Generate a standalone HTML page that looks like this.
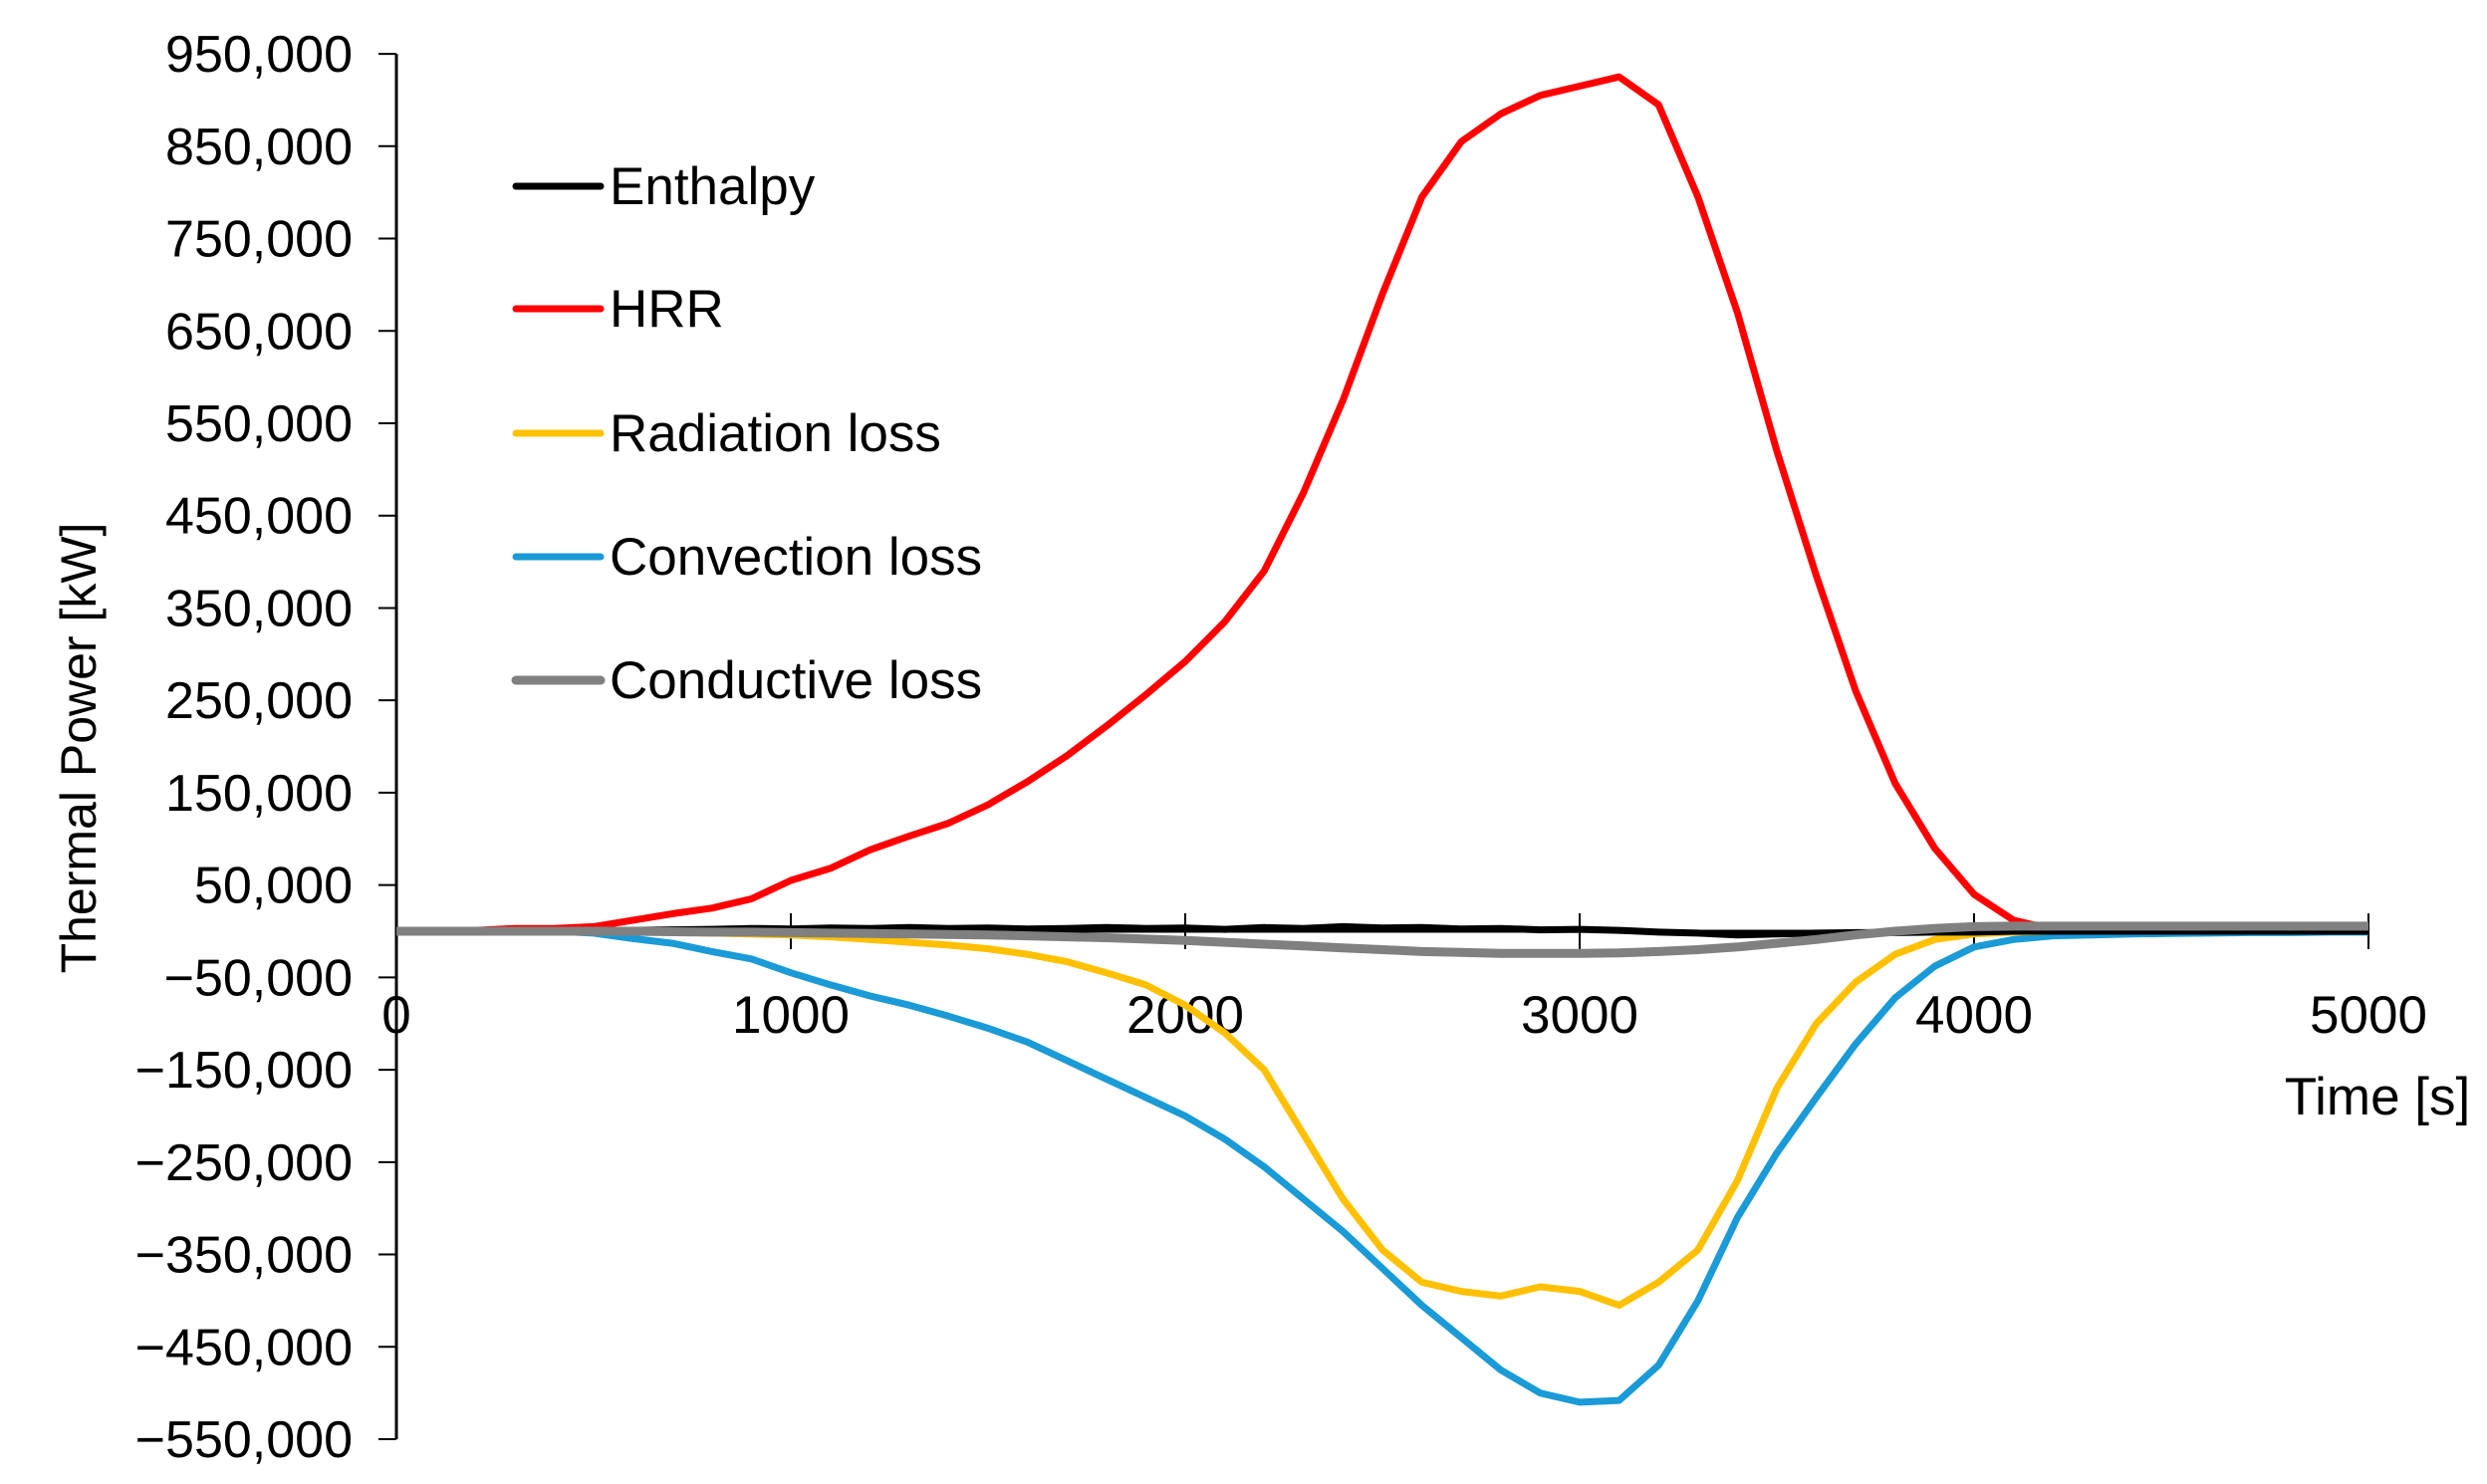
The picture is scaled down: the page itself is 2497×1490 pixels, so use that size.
<!DOCTYPE html>
<html><head><meta charset="utf-8"><style>
html,body{margin:0;padding:0;background:#fff;}
svg{display:block;font-family:"Liberation Sans",sans-serif;}
</style></head><body>
<svg id="chart" width="2497" height="1490" viewBox="0 0 2497 1490" xmlns="http://www.w3.org/2000/svg">
<g id="axes"></g>
<g id="series"></g>
<text transform="translate(96,751) rotate(-90)" text-anchor="middle" font-size="50" fill="#000">Thermal Power [kW]</text>
<text x="2387" y="1119" text-anchor="middle" font-size="53" fill="#000">Time [s]</text>
<g id="legend"></g>
</svg>
<script>
const times = [0,100,200,300,400,500,600,700,800,900,1000,1100,1200,1300,1400,1500,1600,1700,1800,1900,2000,2100,2200,2300,2400,2500,2600,2700,2800,2900,3000,3100,3200,3300,3400,3500,3600,3700,3800,3900,4000,4100,4200,4300,4400,4500,4600,4700,4800,4900,5000];
const hrr = [0,0,1000,3000,3000,5000,12000,19000,25000,35000,55000,68000,88000,103000,117000,137000,162000,190000,222000,256000,292000,335000,390000,475000,575000,690000,795000,855000,885000,905000,915000,925000,895000,795000,670000,520000,385000,260000,160000,90000,40000,12000,2000,0,0,0,0,0,0,0,0];
const radiation = [0,0,0,0,0,0,0,-1000,-2000,-3000,-4000,-6000,-9000,-12000,-15000,-19000,-25000,-33000,-45000,-58000,-80000,-110000,-150000,-220000,-290000,-345000,-380000,-390000,-395000,-385000,-390000,-405000,-380000,-345000,-270000,-170000,-100000,-55000,-25000,-9000,-3000,-1000,0,0,0,0,0,0,0,0,0];
const convection = [0,0,0,0,0,-2000,-8000,-13000,-22000,-30000,-45000,-58000,-70000,-80000,-92000,-105000,-120000,-140000,-160000,-180000,-200000,-225000,-255000,-290000,-325000,-365000,-405000,-440000,-475000,-500000,-510000,-508000,-470000,-400000,-310000,-240000,-180000,-122000,-72000,-38000,-17000,-9000,-5000,-4000,-3000,-2500,-2000,-1500,-1500,-1000,-1000];
const conductive = [0,0,0,0,0,0,0,-500,-1000,-1000,-1500,-2000,-2500,-3000,-3500,-4000,-5000,-6000,-7000,-8500,-10000,-12000,-14000,-16000,-18000,-20000,-22000,-23000,-24000,-24000,-24000,-23500,-22000,-20000,-17000,-13000,-9000,-4000,0,3000,5000,5500,5500,5500,5500,5500,5500,5500,5500,5500,5500];
const enthalpy = [0,0,0,0,0,0,1000,1500,2000,3000,2500,3500,3000,4000,3000,3500,2500,3000,4000,3000,3500,2000,4000,3000,5000,3500,4000,2500,3000,1500,2000,1000,-1000,-2000,-4000,-3000,-2000,-1500,-1500,-1000,-1000,0,0,0,0,0,0,0,0,0,0];
const yTicks = [950000,850000,750000,650000,550000,450000,350000,250000,150000,50000,-50000,-150000,-250000,-350000,-450000,-550000];
const xTicks = [0,1000,2000,3000,4000,5000];
const seriesNames = ["Enthalpy","HRR","Radiation loss","Convection loss","Conductive loss"];

const X0=398, XS=396/1000, Y0=935, YS=0.9273/1000;
function xs(t){return X0+t*XS;}
function ys(v){return Y0-v*YS;}
const NS="http://www.w3.org/2000/svg";
function mk(tag,attrs,parent){const e=document.createElementNS(NS,tag);for(const k in attrs)e.setAttribute(k,attrs[k]);parent.appendChild(e);return e;}

const axes=document.getElementById('axes');
let yl=mk('line',{x1:X0,y1:ys(950000),x2:X0,y2:ys(-550000),stroke:'#000','stroke-width':3},axes);


yTicks.forEach(v=>{
  const t=mk('line',{x1:X0-18,y1:ys(v),x2:X0,y2:ys(v),stroke:'#000','stroke-width':2},axes);
  
  
  const lb=mk('text',{x:354,y:ys(v)+18,'text-anchor':'end','font-size':52,fill:'#000'},axes);
  
  
  lb.textContent=(v<0?'\u2212':'')+Math.abs(v).toLocaleString('en-US');
});
let xl=mk('line',{x1:X0,y1:Y0,x2:xs(5000),y2:Y0,stroke:'#000','stroke-width':3},axes);


xTicks.forEach(t=>{
  const tk=mk('line',{x1:xs(t),y1:Y0-18,x2:xs(t),y2:Y0+18,stroke:'#000','stroke-width':2},axes);
  
  
  const lb=mk('text',{x:xs(t),y:1037,'text-anchor':'middle','font-size':53,fill:'#000'},axes);
  
  
  lb.textContent=String(t);
});

const sg=document.getElementById('series');
function draw(vals,color,w,name){
  const d=vals.map((v,i)=>(i?'L':'M')+xs(times[i]).toFixed(1)+','+ys(v).toFixed(1)).join(' ');
  const p=mk('path',{d:d,fill:'none',stroke:color,'stroke-width':w,'stroke-linejoin':'round'},sg);
  
  
}
draw(convection,'#1a9ad6',7,'convection-loss-line');
draw(radiation,'#ffc000',7,'radiation-loss-line');
draw(hrr,'#ff0000',7,'hrr-line');
draw(enthalpy,'#000000',7,'enthalpy-line');
draw(conductive,'#808080',9,'conductive-loss-line');

const lg=document.getElementById('legend');
const colors=['#000000','#ff0000','#ffc000','#1a9ad6','#808080'];
const rowsY=[187,310,435,559,683];
seriesNames.forEach((n,i)=>{
  const l=mk('line',{x1:518,y1:rowsY[i],x2:603,y2:rowsY[i],stroke:colors[i],'stroke-width':i==4?9:7,'stroke-linecap':'round'},lg);
  
  
  const t=mk('text',{x:612,y:rowsY[i]+18,'font-size':53,fill:'#000'},lg);
  
  
  t.textContent=n;
});
</script>
</body></html>
